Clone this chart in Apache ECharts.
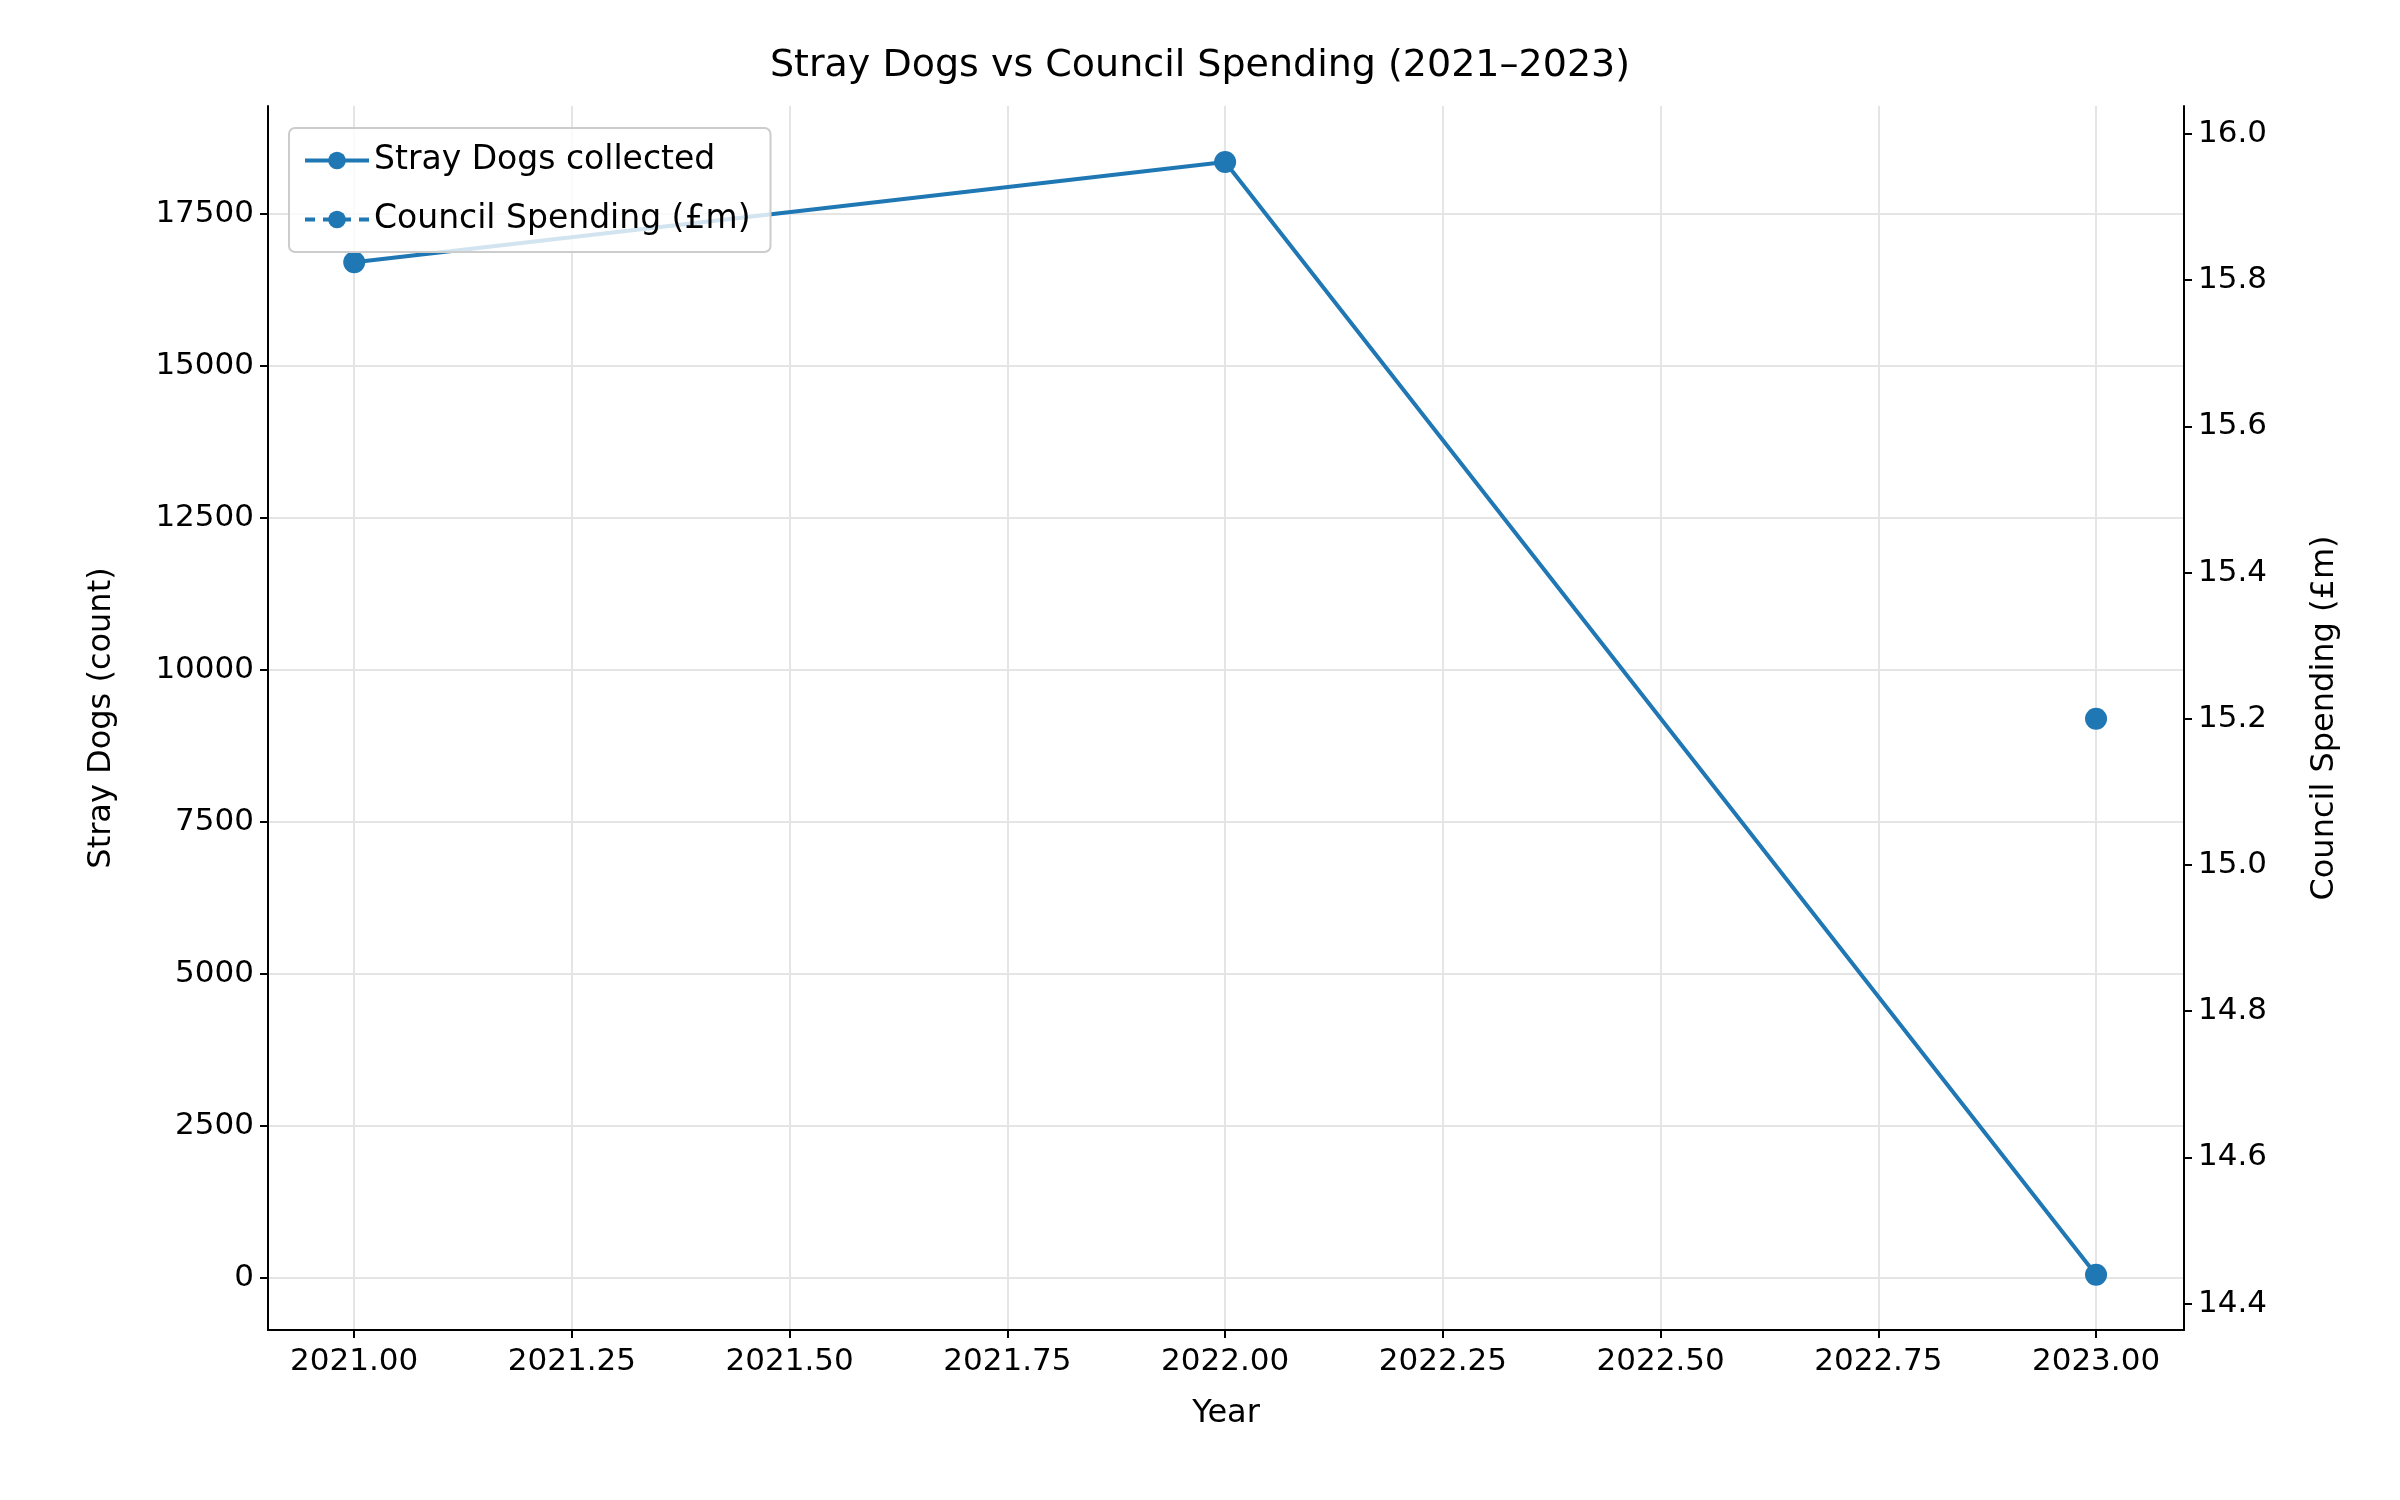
<!DOCTYPE html>
<html><head><meta charset="utf-8">
<script src="https://cdn.jsdelivr.net/npm/echarts@6/dist/echarts.min.js"></script>
<style>html,body{margin:0;background:#fff}#c{width:2400px;height:1500px}</style>
</head><body><div id="c"></div>
<script>
const years = [2021, 2022, 2023];
const strayDogs = [16700, 18350, 50];
const councilSpending = [null, null, 15.2];
const xTicks = [2021, 2021.25, 2021.5, 2021.75, 2022, 2022.25, 2022.5, 2022.75, 2023];
const leftTicks = [0, 2500, 5000, 7500, 10000, 12500, 15000, 17500];
const rightTicks = [14.4, 14.6, 14.8, 15.0, 15.2, 15.4, 15.6, 15.8, 16.0];

const F = 'DejaVu Sans';
const c = '#1f77b4';
const chart = echarts.init(document.getElementById('c'));
chart.setOption({
  animation: false,
  textStyle: {fontFamily: F},
  title: {text: 'Stray Dogs vs Council Spending (2021\u20132023)', left: 'center', top: 42,
    textStyle: {fontFamily: F, fontSize: 38, fontWeight: 'normal', color: '#000'}},
  grid: {left: 268, right: 216, top: 106, bottom: 170},
  legend: {left: 289, top: 128, orient: 'vertical', itemWidth: 64, itemHeight: 22, itemGap: 26,
    padding: [16, 20, 16, 14], borderColor: '#ccc', borderWidth: 2, borderRadius: 6,
    backgroundColor: 'rgba(255,255,255,0.8)',
    textStyle: {fontFamily: F, fontSize: 33, color: '#000'},
    data: [{name: 'Stray Dogs collected', lineStyle: {width: 4}},
           {name: 'Council Spending (£m)', lineStyle: {width: 4, type: [10, 8]}}]},
  xAxis: {type: 'value', min: 2020.901, max: 2023.101, name: 'Year', nameLocation: 'middle', nameGap: 68,
    nameTextStyle: {fontFamily: F, fontSize: 32, color: '#000'},
    axisLine: {onZero: false, lineStyle: {color: '#000', width: 2}},
    axisTick: {show: true, customValues: xTicks, length: 8, lineStyle: {color: '#000', width: 2}},
    axisLabel: {customValues: xTicks, fontSize: 31, color: '#000', margin: 16, formatter: v => v.toFixed(2)},
    splitLine: {show: true, lineStyle: {color: '#e5e5e5', width: 2}}},
  yAxis: [
    {type: 'value', min: -860, max: 19270, name: 'Stray Dogs (count)', nameLocation: 'middle', nameGap: 150,
      nameTextStyle: {fontFamily: F, fontSize: 32, color: '#000'},
      axisLine: {show: true, lineStyle: {color: '#000', width: 2}},
      axisTick: {show: true, length: 8, customValues: leftTicks, lineStyle: {color: '#000', width: 2}},
      axisLabel: {fontSize: 31, color: '#000', margin: 14, customValues: leftTicks, formatter: v => String(v)},
      splitLine: {show: true, lineStyle: {color: '#e5e5e5', width: 2}}},
    {type: 'value', min: 14.364, max: 16.038, name: 'Council Spending (£m)', nameLocation: 'middle', nameGap: 125,
      nameTextStyle: {fontFamily: F, fontSize: 32, color: '#000'},
      axisLine: {show: true, lineStyle: {color: '#000', width: 2}},
      axisTick: {show: true, length: 8, customValues: rightTicks, lineStyle: {color: '#000', width: 2}},
      axisLabel: {fontSize: 31, color: '#000', margin: 14, customValues: rightTicks, formatter: v => v.toFixed(1)},
      splitLine: {show: false}}
  ],
  series: [
    {name: 'Stray Dogs collected', type: 'line', yAxisIndex: 0, data: years.map((y, i) => [y, strayDogs[i]]),
      symbol: 'circle', symbolSize: 22, itemStyle: {color: c}, lineStyle: {color: c, width: 4}},
    {name: 'Council Spending (£m)', type: 'line', yAxisIndex: 1, data: years.map((y, i) => [y, councilSpending[i]]),
      symbol: 'circle', symbolSize: 22, itemStyle: {color: c}, lineStyle: {color: c, width: 4, type: [10, 8]}}
  ]
});
</script></body></html>
